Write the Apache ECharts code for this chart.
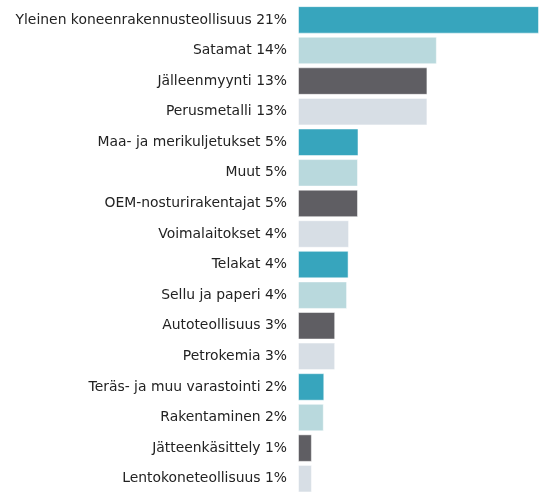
<!DOCTYPE html>
<html>
<head>
<meta charset="utf-8">
<script src="https://cdn.jsdelivr.net/npm/echarts@6/dist/echarts.min.js"></script>
<style>html,body{margin:0;padding:0;background:#fff;}#c{width:539px;height:494px;}</style>
</head>
<body>
<div id="c"></div>
<script>
const categories = [
  "Yleinen koneenrakennusteollisuus 21%",
  "Satamat 14%",
  "Jälleenmyynti 13%",
  "Perusmetalli 13%",
  "Maa- ja merikuljetukset 5%",
  "Muut 5%",
  "OEM-nosturirakentajat 5%",
  "Voimalaitokset 4%",
  "Telakat 4%",
  "Sellu ja paperi 4%",
  "Autoteollisuus 3%",
  "Petrokemia 3%",
  "Teräs- ja muu varastointi 2%",
  "Rakentaminen 2%",
  "Jätteenkäsittely 1%",
  "Lentokoneteollisuus 1%"
];
const values = [24.3, 14.0, 13.05, 13.05, 6.1, 6.05, 6.05, 5.15, 5.1, 4.95, 3.75, 3.75, 2.65, 2.6, 1.4, 1.4];
const palette = ["#37a5bd", "#b9d9dd", "#5f5e63", "#d7dee5"];

const chart = echarts.init(document.getElementById('c'), null, {renderer: 'canvas'});
chart.setOption({
  animation: false,
  grid: {left: 298, right: 0, top: 4.6, bottom: -9.3, containLabel: false},
  xAxis: {type: 'value', min: 0, max: 24.3, show: false},
  yAxis: {
    type: 'category', data: categories, inverse: true,
    axisLine: {show: false}, axisTick: {show: false},
    axisLabel: {color: '#222', fontFamily: 'DejaVu Sans, sans-serif', fontSize: 13.9, margin: 11}
  },
  series: [{
    type: 'bar',
    data: values.map((v, i) => ({value: v, itemStyle: {color: palette[i % 4]}})),
    barCategoryGap: '10%',
    itemStyle: {borderColor: 'rgba(255,255,255,0.5)', borderWidth: 1}
  }]
});
</script>
</body>
</html>
